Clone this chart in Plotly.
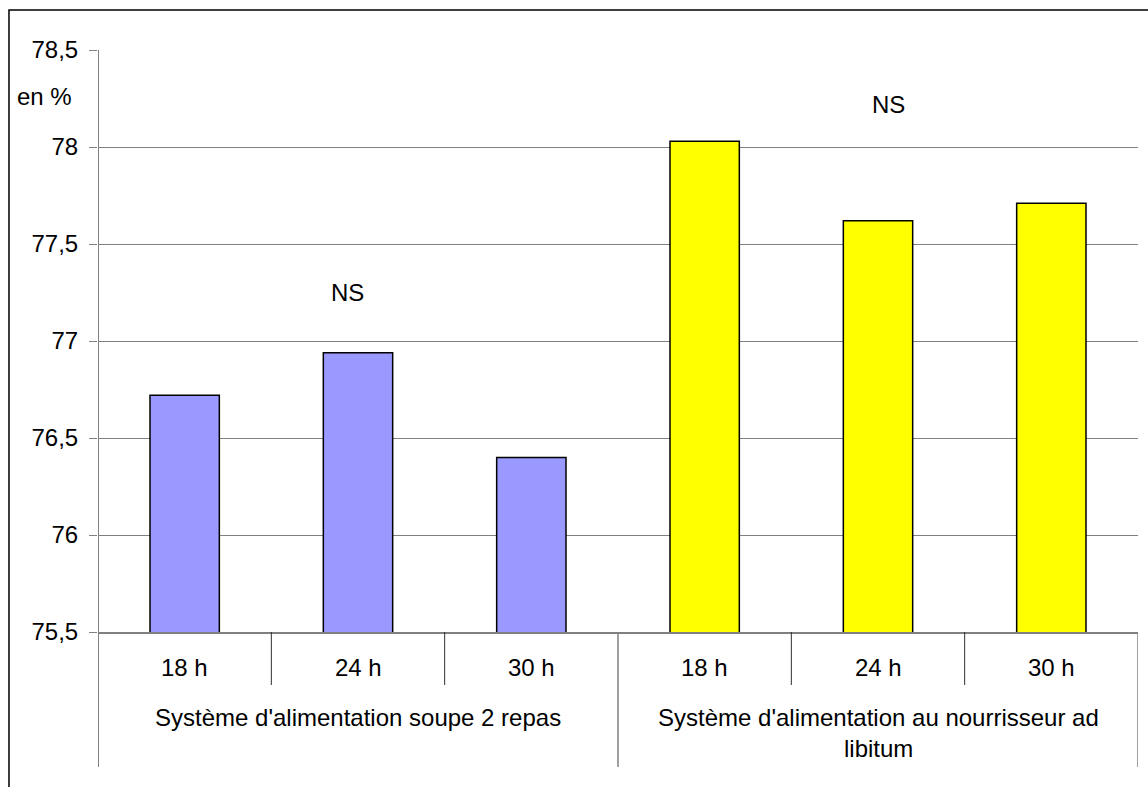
import plotly.graph_objects as go

# Carcass yield (en %) by feeding system and fasting duration
durees = ["18 h", "24 h", "30 h"]
systemes = ["Système d'alimentation soupe 2 repas",
            "Système d'alimentation au nourrisseur ad libitum"]
soupe = [76.72, 76.94, 76.40]
nourrisseur = [78.03, 77.62, 77.71]
y_ticks = [75.5, 76, 76.5, 77, 77.5, 78, 78.5]

FONT = "Liberation Sans, Arial, sans-serif"
FS = 24
GRID = "#808080"

x_soupe = [0, 1, 2]
x_nour = [3, 4, 5]

fig = go.Figure()
fig.add_trace(go.Bar(x=x_soupe, y=soupe, width=0.4, name=systemes[0],
                     marker=dict(color="#9999FF", line=dict(color="#000000", width=1.5))))
fig.add_trace(go.Bar(x=x_nour, y=nourrisseur, width=0.4, name=systemes[1],
                     marker=dict(color="#FFFF00", line=dict(color="#000000", width=1.5))))

# Row of plot-area geometry helpers (paper units below the x axis)
plot_h = 582.0
def below(px):
    return -px / plot_h

shapes = []
# outer chart frame
shapes.append(dict(type="rect", xref="paper", yref="paper",
                   x0=-0.0856, x1=1.2, y0=-0.5, y1=1.0687,
                   line=dict(color="#000000", width=1.5), fillcolor="rgba(0,0,0,0)", layer="below"))
# value axis line extended down through the category area
shapes.append(dict(type="line", xref="x", yref="paper", x0=-0.5, x1=-0.5,
                   y0=1, y1=below(135), line=dict(color=GRID, width=2)))
# short dividers between durations
for xv in [0.5, 1.5, 3.5, 4.5]:
    shapes.append(dict(type="line", xref="x", yref="paper", x0=xv, x1=xv,
                       y0=0, y1=below(53), line=dict(color="#303030", width=1)))
# long dividers between feeding systems
for xv in [2.5, 5.5]:
    shapes.append(dict(type="line", xref="x", yref="paper", x0=xv, x1=xv,
                       y0=0, y1=below(135), line=dict(color=GRID, width=1.5)))

annotations = []
for xs in (x_soupe, x_nour):
    for xv, lab in zip(xs, durees):
        annotations.append(dict(x=xv, y=below(35), xref="x", yref="paper", text=lab,
                                showarrow=False, font=dict(family=FONT, size=FS, color="#000000"),
                                xanchor="center", yanchor="middle"))
annotations.append(dict(x=1, y=below(85), xref="x", yref="paper", text=systemes[0],
                        showarrow=False, font=dict(family=FONT, size=FS, color="#000000"),
                        xanchor="center", yanchor="middle"))
annotations.append(dict(x=4, y=below(85), xref="x", yref="paper",
                        text="Système d'alimentation au nourrisseur ad",
                        showarrow=False, font=dict(family=FONT, size=FS, color="#000000"),
                        xanchor="center", yanchor="middle"))
annotations.append(dict(x=4, y=below(116), xref="x", yref="paper", text="libitum",
                        showarrow=False, font=dict(family=FONT, size=FS, color="#000000"),
                        xanchor="center", yanchor="middle"))
# unit label
annotations.append(dict(x=(15 - 98) / 1040, y=(632 - 96) / plot_h, xref="paper", yref="paper",
                        text="en %", showarrow=False, xanchor="left", yanchor="middle",
                        font=dict(family=FONT, size=FS, color="#000000")))
# significance marks
annotations.append(dict(x=0.94, y=77.25, xref="x", yref="y", text="NS", showarrow=False,
                        font=dict(family=FONT, size=FS, color="#000000")))
annotations.append(dict(x=4.06, y=78.22, xref="x", yref="y", text="NS", showarrow=False,
                        font=dict(family=FONT, size=FS, color="#000000")))

fig.update_layout(
    width=1148, height=787,
    margin=dict(l=98, r=10, t=50, b=155),
    paper_bgcolor="#FFFFFF", plot_bgcolor="#FFFFFF",
    barmode="overlay", showlegend=False,
    separators=", ",
    font=dict(family=FONT, size=FS, color="#000000"),
    shapes=shapes, annotations=annotations,
    xaxis=dict(range=[-0.5, 5.5], showticklabels=False, showgrid=False, zeroline=False,
               showline=True, linecolor=GRID, linewidth=2, ticks=""),
    yaxis=dict(range=[75.5, 78.5], tickvals=y_ticks, showgrid=True, gridcolor=GRID, gridwidth=1,
               zeroline=False, showline=False, ticks="outside", ticklen=8, tickcolor=GRID,
               tickwidth=1, ticklabelstandoff=6,
               tickfont=dict(family=FONT, size=FS, color="#000000")),
)

fig.write_html("out.html")
